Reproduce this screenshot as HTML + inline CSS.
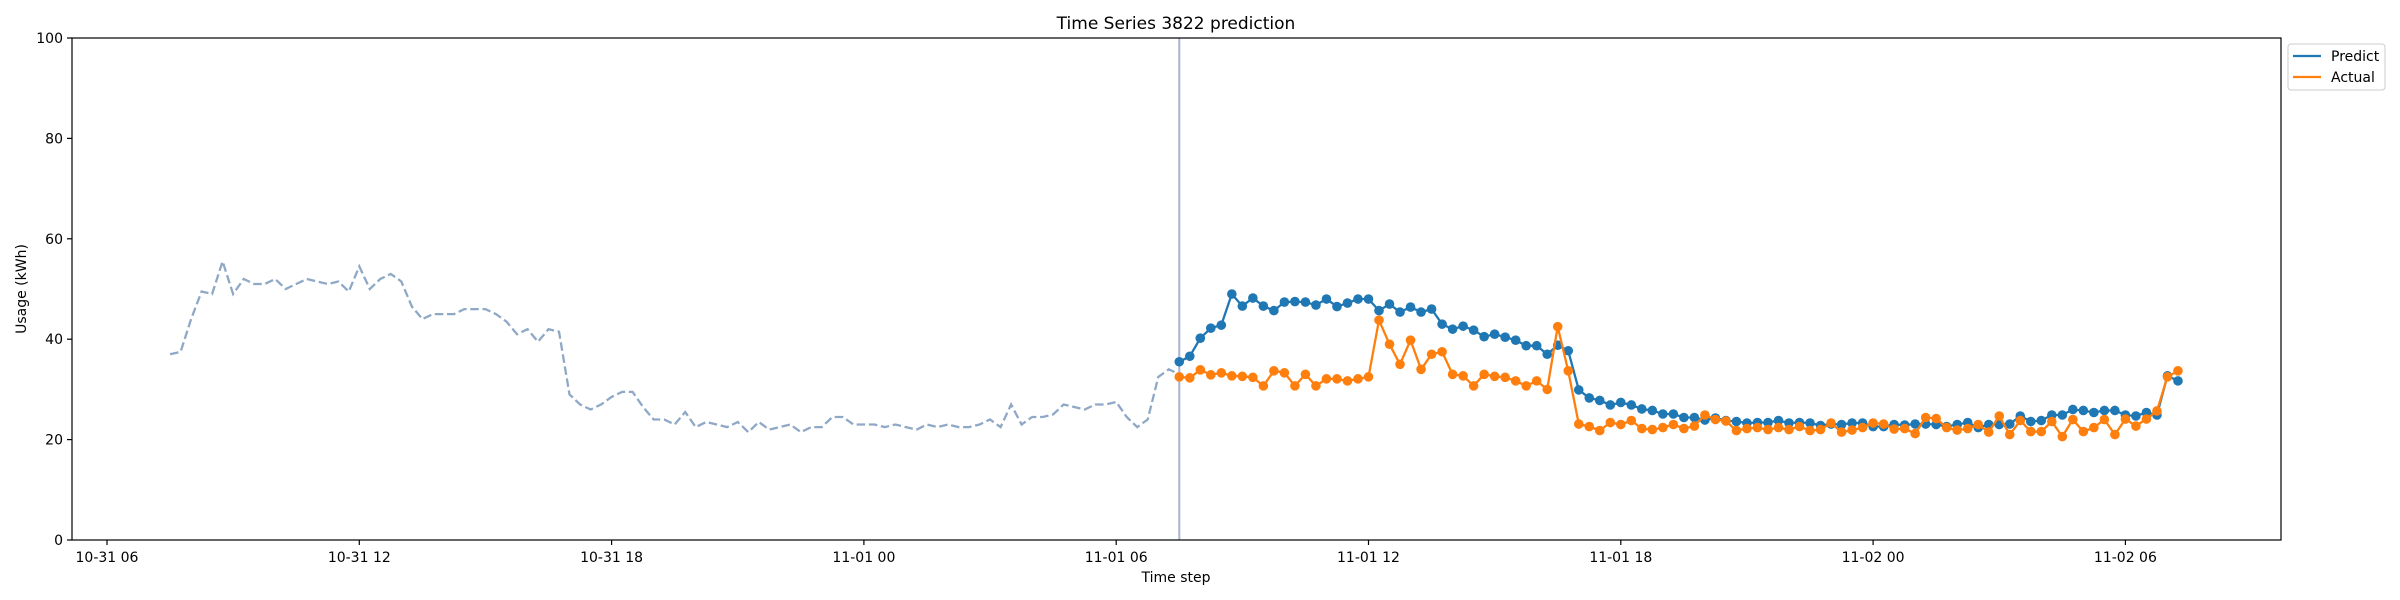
<!DOCTYPE html>
<html><head><meta charset="utf-8"><style>
html,body{margin:0;padding:0;background:#fff;}
svg{display:block;font-family:"DejaVu Sans","Liberation Sans",sans-serif;}
</style></head><body>
<svg id="chart" width="2400" height="600" viewBox="0 0 2400 600" xmlns="http://www.w3.org/2000/svg">
<rect width="2400" height="600" fill="#fff"/>
<text x="1176" y="29" font-size="17" text-anchor="middle" fill="#000">Time Series 3822 prediction</text>
<g id="plot"></g>
<rect x="72" y="38" width="2209" height="502" fill="none" stroke="#000" stroke-width="1.2"/>
<text transform="translate(26,289) rotate(-90)" font-size="14" text-anchor="middle">Usage (kWh)</text>
<text x="1176" y="582" font-size="14" text-anchor="middle">Time step</text>
<g>
<rect x="2288" y="44" width="97" height="46" rx="3" fill="#fff" stroke="#ccc"/>
<line x1="2293" y1="56" x2="2321" y2="56" stroke="#1f77b4" stroke-width="2.3"/>
<text x="2331" y="61" font-size="14">Predict</text>
<line x1="2293" y1="77" x2="2321" y2="77" stroke="#ff7f0e" stroke-width="2.3"/>
<text x="2331" y="82" font-size="14">Actual</text>
</g>
</svg>
<script>
const xTickLabels = ["10-31 06","10-31 12","10-31 18","11-01 00","11-01 06","11-01 12","11-01 18","11-02 00","11-02 06"];
const yTicks = [0,20,40,60,80,100];
const historyStartHour = 1.5;
const forecastStartHour = 25.5;
const stepHours = 0.25;
const history = [37,37.5,44,49.5,49,55.5,49,52,51,51,
52,50,51,52,51.5,51,51.5,49.5,54.5,50,
52,53,51.5,46.5,44,45,45,45,46,46,
46,45,43.5,41,42,39.5,42,41.5,29,27,
26,27,28.5,29.5,29.5,26.5,24,24,23,25.5,
22.5,23.5,23,22.5,23.5,21.5,23.5,22,22.5,23,
21.5,22.5,22.5,24.5,24.5,23,23,23,22.5,23,
22.5,22,23,22.5,23,22.5,22.5,23,24,22.5,
27,23,24.5,24.5,25,27,26.5,26,27,27,
27.5,24.5,22.5,24,32.5,34,33];
const predict = [35.5,36.6,40.2,42.2,42.8,49,46.6,48.2,46.6,45.7,
47.4,47.5,47.4,46.8,48,46.5,47.2,48,48,45.7,
47,45.4,46.4,45.4,46,43,42,42.6,41.8,40.5,
41,40.4,39.8,38.7,38.7,37,38.8,37.7,29.9,28.3,
27.8,26.9,27.4,26.9,26.1,25.8,25.1,25.1,24.4,24.4,
23.9,24.3,23.8,23.6,23.3,23.4,23.4,23.8,23.3,23.4,
23.3,22.8,23.1,23.0,23.3,23.3,22.6,22.6,23,22.9,
23.1,23.1,23,22.6,23,23.4,22.4,23,23,23.1,
24.7,23.6,23.8,24.9,24.9,26,25.8,25.4,25.8,25.8,
24.9,24.7,25.4,24.9,32.7,31.7];
const actual = [32.5,32.3,33.9,32.9,33.3,32.7,32.6,32.4,30.7,33.7,
33.3,30.7,33,30.7,32.1,32.1,31.7,32.1,32.5,43.8,
39,35,39.8,34,37,37.5,33,32.7,30.7,33,
32.6,32.4,31.7,30.7,31.7,30,42.5,33.7,23.1,22.6,
21.8,23.4,23.0,23.8,22.2,22.0,22.4,23,22.2,22.7,
24.9,24,23.7,21.8,22.2,22.4,22,22.4,22,22.6,
21.8,22,23.3,21.5,21.9,22.4,23.3,23.1,22.1,22.2,
21.2,24.4,24.2,22.4,21.9,22.2,23,21.5,24.7,21,
23.8,21.6,21.6,23.6,20.6,24,21.6,22.4,24,21,
24.1,22.7,24.1,25.7,32.5,33.7];

const NS="http://www.w3.org/2000/svg";
const L=72,R=2281,T=38,B=540;
const X0=107, PXH=42.05;
const xs=h=>X0+h*PXH;
const ys=v=>B-(v/100)*(B-T);
const g=document.getElementById('plot');
function mk(t,a){const e=document.createElementNS(NS,t);for(const k in a)e.setAttribute(k,a[k]);g.appendChild(e);return e;}

yTicks.forEach(v=>{
  const y=ys(v);
  const tk=mk('line',{x1:L-5,x2:L,y1:y,y2:y,stroke:'#000','stroke-width':1.2});
  
  
  const t=mk('text',{x:L-9,y:y+5,'font-size':14,'text-anchor':'end'});
  t.textContent=v;
  
  
});
xTickLabels.forEach((s,i)=>{
  const x=xs(i*6);
  const tk=mk('line',{x1:x,x2:x,y1:B,y2:B+5,stroke:'#000','stroke-width':1.2});
  
  
  const t=mk('text',{x:x,y:B+22,'font-size':14,'text-anchor':'middle'});
  t.textContent=s;
  
  
});

const hp=history.map((v,i)=>xs(historyStartHour+i*stepHours).toFixed(1)+','+ys(v).toFixed(1)).join(' ');
const hl=mk('polyline',{points:hp,fill:'none',stroke:'#8fa8c6','stroke-width':2.3,'stroke-dasharray':'8.5,3.7'});



const vl=mk('line',{x1:xs(forecastStartHour),x2:xs(forecastStartHour),y1:T,y2:B,stroke:'#a8b4d6','stroke-width':2});



function series(arr,color,name){
  const pts=arr.map((v,i)=>[xs(forecastStartHour+i*stepHours),ys(v)]);
  const pl=mk('polyline',{points:pts.map(p=>p[0].toFixed(1)+','+p[1].toFixed(1)).join(' '),fill:'none',stroke:color,'stroke-width':2.3});
  
  
  pts.forEach(p=>{
    const c=mk('circle',{cx:p[0],cy:p[1],r:4.8,fill:color});
    
    
  });
}
series(predict,'#1f77b4','predict');
series(actual,'#ff7f0e','actual');
</script>
</body></html>
